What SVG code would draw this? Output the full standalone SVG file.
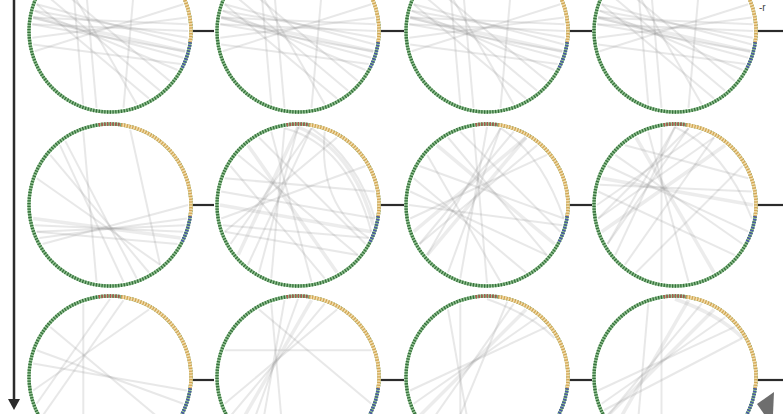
<svg xmlns="http://www.w3.org/2000/svg" xmlns:xlink="http://www.w3.org/1999/xlink" width="783" height="414" viewBox="0 0 783 414">
<style>
.ch line, .ch path { stroke:#8c8c8c; stroke-opacity:0.2; stroke-width:2; fill:none; }
.ch .w { stroke-width:3.5; stroke-opacity:0.17; }
.gb { fill:none; stroke:#8fc08f; stroke-width:3.4; }
.gd { fill:none; stroke:#356f3b; stroke-width:3.4; stroke-dasharray:1.3 1.5; }
.ob { fill:none; stroke:#f2dcab; stroke-width:3.4; }
.od { fill:none; stroke:#d2a653; stroke-width:3.4; stroke-dasharray:1.3 1.5; }
.rd { fill:none; stroke:#c0534f; stroke-width:3.4; stroke-dasharray:1.3 1.5; }
.bd { fill:none; stroke:#4c55b2; stroke-width:3.4; stroke-dasharray:1.3 1.5; }
.dash { stroke:#2b2b2b; stroke-width:2.2; }
</style>
<defs>
<g id="ring">
<circle class="gb" r="81"/>
<circle class="gd" r="81"/>
<path class="ob" d="M11.3,-80.2 A81,81 0 0 1 80.2,11.3"/>
<path class="od" d="M11.3,-80.2 A81,81 0 0 1 80.2,11.3"/>
<path class="rd" d="M-11.3,-80.2 A81,81 0 0 1 11.3,-80.2"/>
<path class="bd" d="M80.2,11.3 A81,81 0 0 1 71.5,38"/>
</g>
<g id="r1chords" class="ch">
<line x1="-76.8" y1="-13.5" x2="77.7" y2="-6.8"/>
<line x1="-75.3" y1="-20.2" x2="77.7" y2="6.8"/>
<line x1="-77.7" y1="-6.8" x2="75.3" y2="20.2"/>
<line x1="-73.3" y1="-26.7" x2="76.8" y2="13.5"/>
<line x1="-76.8" y1="-13.5" x2="73.3" y2="26.7"/>
<line x1="-77.7" y1="6.8" x2="76.8" y2="-13.5"/>
<line x1="-76.8" y1="13.5" x2="70.7" y2="33"/>
<line x1="-75.3" y1="-20.2" x2="67.5" y2="39"/>
<line x1="-73.3" y1="-26.7" x2="39" y2="67.5"/>
<line x1="-67.5" y1="-39" x2="50.1" y2="59.8"/>
<line x1="-26.7" y1="-73.3" x2="-13.5" y2="76.8"/>
<line x1="-39" y1="-67.5" x2="-26.7" y2="73.3"/>
<line x1="26.7" y1="-73.3" x2="13.5" y2="76.8"/>
<line x1="-75.3" y1="20.2" x2="73.3" y2="-26.7"/>
<line x1="-59.8" y1="-50.1" x2="59.8" y2="50.1"/>
<line x1="-77.7" y1="-6.8" x2="78" y2="0"/>
<line class="w" x1="-76.8" y1="-13.5" x2="75.3" y2="20.2"/>
<line x1="-50.1" y1="-59.8" x2="26.7" y2="73.3"/>
</g>
</defs>
<rect width="783" height="414" fill="#ffffff"/>

<g id="connectors">
<line x1="14" y1="0" x2="14" y2="402" stroke="#2b2b2b" stroke-width="2.5"/>
<path d="M8,399 L20,399 L14,410 z" fill="#2b2b2b"/>
<line class="dash" x1="192" y1="31" x2="214" y2="31"/>
<line class="dash" x1="380" y1="31" x2="404" y2="31"/>
<line class="dash" x1="569" y1="31" x2="592" y2="31"/>
<line class="dash" x1="757" y1="31" x2="783" y2="31"/>
<line class="dash" x1="192" y1="205" x2="214" y2="205"/>
<line class="dash" x1="380" y1="205" x2="404" y2="205"/>
<line class="dash" x1="569" y1="205" x2="592" y2="205"/>
<line class="dash" x1="757" y1="205" x2="783" y2="205"/>
<line class="dash" x1="192" y1="380" x2="214" y2="380"/>
<line class="dash" x1="380" y1="380" x2="404" y2="380"/>
<line class="dash" x1="569" y1="380" x2="592" y2="380"/>
<line class="dash" x1="757" y1="380" x2="783" y2="380"/>
<polygon points="774,392 757,404 764,414 773,414" fill="#6e6e6e"/>
</g>
<text x="759" y="11" font-family="Liberation Sans, Arial, sans-serif" font-size="10" fill="#444">-r</text>

<g id="n11" transform="translate(110,31)"><use xlink:href="#r1chords"/><use xlink:href="#ring"/></g>
<g id="n12" transform="translate(298,31)"><use xlink:href="#r1chords"/><use xlink:href="#ring"/></g>
<g id="n13" transform="translate(487,31)"><use xlink:href="#r1chords"/><use xlink:href="#ring"/></g>
<g id="n14" transform="translate(675,31)"><use xlink:href="#r1chords"/><use xlink:href="#ring"/></g>

<g id="n21" transform="translate(110,205)">
<g class="ch">
<line x1="-50.1" y1="-59.8" x2="13.5" y2="76.8"/>
<line x1="-44.7" y1="-63.9" x2="26.7" y2="73.3"/>
<line x1="-26.7" y1="-73.3" x2="-13.5" y2="76.8"/>
<line x1="20.2" y1="-75.3" x2="50.1" y2="59.8"/>
<line x1="-73.3" y1="26.7" x2="75.3" y2="20.2"/>
<line x1="-75.3" y1="20.2" x2="73.3" y2="26.7"/>
<line class="w" x1="-76.8" y1="13.5" x2="70.7" y2="33"/>
<line x1="-73.3" y1="26.7" x2="67.5" y2="39"/>
<line x1="-70.7" y1="33" x2="76.8" y2="13.5"/>
<line x1="-73.3" y1="-26.7" x2="50.1" y2="59.8"/>
<line x1="-67.5" y1="39" x2="78" y2="0"/>
<line x1="-59.8" y1="-50.1" x2="39" y2="67.5"/>
</g>
<use xlink:href="#ring"/>
</g>

<g id="n22" transform="translate(298,205)">
<g class="ch">
<path class="w" d="M0,-78 Q55,-55 75.3,20.2"/>
<path d="M13.5,-76.8 Q60,-45 76.8,13.5"/>
<path d="M-13.5,-76.8 Q50,-60 73.3,26.7"/>
<path d="M26.7,-73.3 Q20,0 70.7,33"/>
<line x1="-59.8" y1="-50.1" x2="59.8" y2="50.1"/>
<line class="w" x1="-50.1" y1="-59.8" x2="39" y2="67.5"/>
<line x1="-39" y1="-67.5" x2="67.5" y2="39"/>
<line x1="-26.7" y1="-73.3" x2="13.5" y2="76.8"/>
<line x1="-73.3" y1="-26.7" x2="76.8" y2="-13.5"/>
<line x1="-76.8" y1="-13.5" x2="76.8" y2="13.5"/>
<line class="w" x1="-78" y1="0" x2="73.3" y2="26.7"/>
<line x1="-76.8" y1="13.5" x2="67.5" y2="-39"/>
<line x1="-73.3" y1="26.7" x2="39" y2="-67.5"/>
<line x1="-67.5" y1="39" x2="13.5" y2="-76.8"/>
<line class="w" x1="-59.8" y1="50.1" x2="0" y2="-78"/>
<line x1="-67.5" y1="-39" x2="26.7" y2="73.3"/>
<line x1="-13.5" y1="-76.8" x2="-26.7" y2="73.3"/>
<line x1="0" y1="-78" x2="-39" y2="67.5"/>
<line x1="13.5" y1="-76.8" x2="-50.1" y2="59.8"/>
<line x1="-75.3" y1="20.2" x2="70.7" y2="33"/>
<line x1="-73.3" y1="26.7" x2="59.8" y2="50.1"/>
</g>
<use xlink:href="#ring"/>
</g>

<g id="n23" transform="translate(487,205)">
<g class="ch">
<path d="M13.5,-76.8 Q55,-50 76.8,13.5"/>
<line class="w" x1="-50.1" y1="-59.8" x2="67.5" y2="39"/>
<line x1="-39" y1="-67.5" x2="59.8" y2="50.1"/>
<line x1="-26.7" y1="-73.3" x2="73.3" y2="26.7"/>
<line x1="-67.5" y1="-39" x2="76.8" y2="13.5"/>
<line x1="-73.3" y1="-26.7" x2="39" y2="67.5"/>
<line class="w" x1="-73.3" y1="26.7" x2="39" y2="-67.5"/>
<line x1="-67.5" y1="39" x2="50.1" y2="-59.8"/>
<line x1="-76.8" y1="13.5" x2="59.8" y2="-50.1"/>
<line x1="-59.8" y1="50.1" x2="13.5" y2="-76.8"/>
<line x1="0" y1="-78" x2="-26.7" y2="73.3"/>
<line x1="13.5" y1="-76.8" x2="-39" y2="67.5"/>
<line x1="-13.5" y1="-76.8" x2="0" y2="78"/>
<line x1="26.7" y1="-73.3" x2="-67.5" y2="39"/>
<line class="w" x1="39" y1="-67.5" x2="-59.8" y2="50.1"/>
<line x1="-76.8" y1="-13.5" x2="59.8" y2="50.1"/>
<line x1="-59.8" y1="-50.1" x2="13.5" y2="76.8"/>
<line x1="-78" y1="0" x2="75.3" y2="20.2"/>
</g>
<use xlink:href="#ring"/>
</g>

<g id="n24" transform="translate(675,205)">
<g class="ch">
<line class="w" x1="-73.3" y1="-26.7" x2="78" y2="0"/>
<line x1="-67.5" y1="-39" x2="73.3" y2="26.7"/>
<line x1="-59.8" y1="-50.1" x2="67.5" y2="39"/>
<line x1="-50.1" y1="-59.8" x2="73.3" y2="-26.7"/>
<line class="w" x1="-39" y1="-67.5" x2="39" y2="67.5"/>
<line x1="-26.7" y1="-73.3" x2="13.5" y2="76.8"/>
<line x1="-13.5" y1="-76.8" x2="-13.5" y2="76.8"/>
<line x1="-78" y1="0" x2="26.7" y2="-73.3"/>
<line x1="-76.8" y1="13.5" x2="39" y2="-67.5"/>
<line class="w" x1="-73.3" y1="26.7" x2="50.1" y2="-59.8"/>
<line x1="-67.5" y1="39" x2="13.5" y2="-76.8"/>
<line x1="-59.8" y1="50.1" x2="0" y2="-78"/>
<line x1="-50.1" y1="59.8" x2="39" y2="-67.5"/>
<line x1="-39" y1="67.5" x2="67.5" y2="-39"/>
<line x1="-76.8" y1="-13.5" x2="59.8" y2="50.1"/>
<line x1="0" y1="-78" x2="-67.5" y2="39"/>
<line x1="13.5" y1="-76.8" x2="-76.8" y2="13.5"/>
<line x1="-75.3" y1="-20.2" x2="76.8" y2="-13.5"/>
<path d="M0,-78 Q50,-55 76.8,13.5"/>
</g>
<use xlink:href="#ring"/>
</g>

<g id="n31" transform="translate(110,377)">
<g class="ch">
<line x1="13.5" y1="-76.8" x2="-67.5" y2="39"/>
<line x1="0" y1="-78" x2="-73.3" y2="26.7"/>
<line x1="-59.8" y1="-50.1" x2="59.8" y2="50.1"/>
<line x1="-76.8" y1="-13.5" x2="76.8" y2="13.5"/>
<line x1="39" y1="-67.5" x2="-76.8" y2="13.5"/>
<line x1="-26.7" y1="-73.3" x2="-26.7" y2="73.3"/>
<line x1="-73.3" y1="-26.7" x2="73.3" y2="26.7"/>
</g>
<use xlink:href="#ring"/>
</g>

<g id="n32" transform="translate(298,377)">
<g class="ch">
<line x1="0" y1="-78" x2="-50.1" y2="59.8"/>
<line class="w" x1="13.5" y1="-76.8" x2="-59.8" y2="50.1"/>
<line x1="26.7" y1="-73.3" x2="-67.5" y2="39"/>
<line x1="-13.5" y1="-76.8" x2="-39" y2="67.5"/>
<line x1="39" y1="-67.5" x2="-73.3" y2="26.7"/>
<line x1="-39" y1="-67.5" x2="73.3" y2="26.7"/>
<line x1="-73.3" y1="-26.7" x2="73.3" y2="-26.7"/>
<line x1="-26.7" y1="-73.3" x2="-13.5" y2="76.8"/>
</g>
<use xlink:href="#ring"/>
</g>

<g id="n33" transform="translate(487,377)">
<g class="ch">
<path d="M0,-78 Q45,-62 67.5,-39"/>
<line x1="20.2" y1="-75.3" x2="-39" y2="67.5"/>
<line x1="26.7" y1="-73.3" x2="-59.8" y2="50.1"/>
<line class="w" x1="39" y1="-67.5" x2="-67.5" y2="39"/>
<line x1="50.1" y1="-59.8" x2="-73.3" y2="26.7"/>
<line x1="59.8" y1="-50.1" x2="-76.8" y2="13.5"/>
<line x1="-39" y1="-67.5" x2="-13.5" y2="76.8"/>
<line x1="-26.7" y1="-73.3" x2="-26.7" y2="73.3"/>
</g>
<use xlink:href="#ring"/>
</g>

<g id="n34" transform="translate(675,377)">
<g class="ch">
<path class="w" d="M0,-78 Q45,-62 67.5,-39"/>
<line class="w" x1="13.5" y1="-76.8" x2="-59.8" y2="50.1"/>
<line x1="26.7" y1="-73.3" x2="-67.5" y2="39"/>
<line class="w" x1="39" y1="-67.5" x2="-67.5" y2="39"/>
<line x1="50.1" y1="-59.8" x2="-73.3" y2="26.7"/>
<line x1="59.8" y1="-50.1" x2="-76.8" y2="13.5"/>
<line x1="67.5" y1="-39" x2="-70.7" y2="33"/>
<line x1="-26.7" y1="-73.3" x2="-39" y2="67.5"/>
<line x1="-13.5" y1="-76.8" x2="-13.5" y2="76.8"/>
</g>
<use xlink:href="#ring"/>
</g>
</svg>
